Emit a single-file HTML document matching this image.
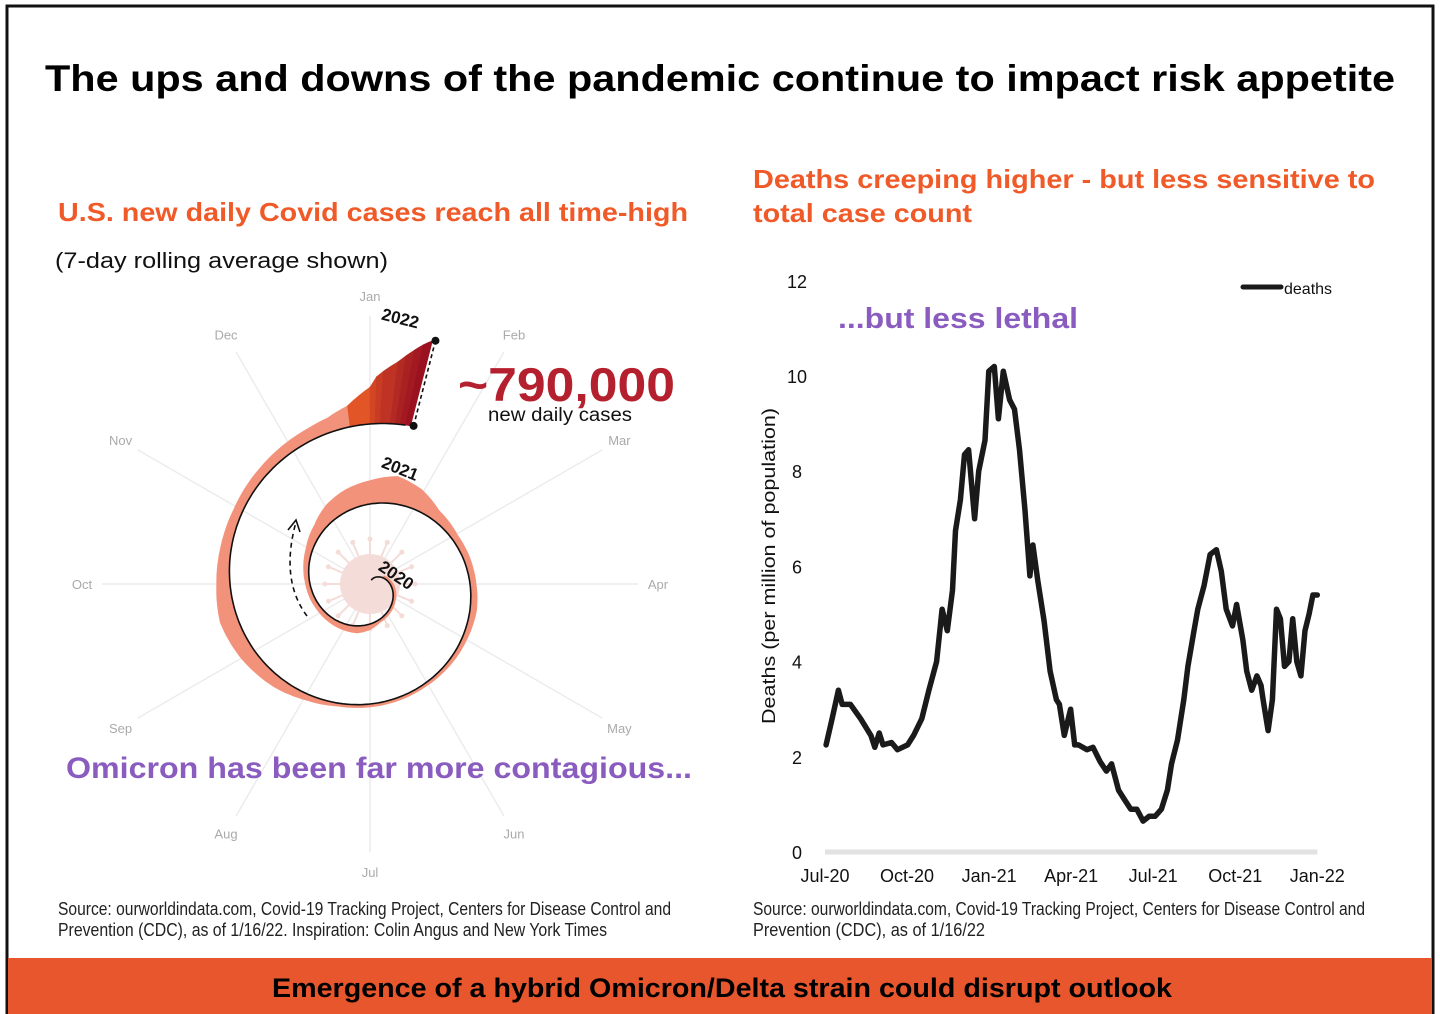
<!DOCTYPE html>
<html><head><meta charset="utf-8"><style>
html,body{margin:0;padding:0;background:#fff;}
svg{display:block;font-family:"Liberation Sans",sans-serif;}
</style></head><body>
<svg id="page" width="1440" height="1014" viewBox="0 0 1440 1014" xmlns="http://www.w3.org/2000/svg">
<rect x="7" y="6" width="1426" height="1010" fill="#fff" stroke="#111" stroke-width="3"/>
<text x="720" y="91" text-anchor="middle" font-size="37" font-weight="bold" fill="#000" textLength="1350" lengthAdjust="spacingAndGlyphs">The ups and downs of the pandemic continue to impact risk appetite</text>

<text x="58" y="221" font-size="26" font-weight="bold" fill="#f05a28" textLength="630" lengthAdjust="spacingAndGlyphs">U.S. new daily Covid cases reach all time-high</text>
<text x="55" y="268" font-size="22" fill="#111" textLength="333" lengthAdjust="spacingAndGlyphs">(7-day rolling average shown)</text>

<g id="spiral"></g>

<text x="458" y="401" font-size="47" font-weight="bold" fill="#b5202e" textLength="217" lengthAdjust="spacingAndGlyphs">~790,000</text>
<text x="488" y="421" font-size="19" fill="#111" textLength="144" lengthAdjust="spacingAndGlyphs">new daily cases</text>
<text x="66" y="778" font-size="30" font-weight="bold" fill="#8a5cbf" textLength="626" lengthAdjust="spacingAndGlyphs">Omicron has been far more contagious...</text>

<text x="753" y="188" font-size="26" font-weight="bold" fill="#f05a28" textLength="622" lengthAdjust="spacingAndGlyphs">Deaths creeping higher - but less sensitive to</text>
<text x="753" y="222" font-size="26" font-weight="bold" fill="#f05a28" textLength="219" lengthAdjust="spacingAndGlyphs">total case count</text>
<text x="838" y="328" font-size="29" font-weight="bold" fill="#8a5cbf" textLength="240" lengthAdjust="spacingAndGlyphs">...but less lethal</text>

<g id="deathsChart"></g>

<text x="58" y="915" font-size="18" fill="#222" textLength="613" lengthAdjust="spacingAndGlyphs">Source: ourworldindata.com, Covid-19 Tracking Project, Centers for Disease Control and</text>
<text x="58" y="936" font-size="18" fill="#222" textLength="549" lengthAdjust="spacingAndGlyphs">Prevention (CDC), as of 1/16/22. Inspiration: Colin Angus and New York Times</text>
<text x="753" y="915" font-size="18" fill="#222" textLength="612" lengthAdjust="spacingAndGlyphs">Source: ourworldindata.com, Covid-19 Tracking Project, Centers for Disease Control and</text>
<text x="753" y="936" font-size="18" fill="#222" textLength="232" lengthAdjust="spacingAndGlyphs">Prevention (CDC), as of 1/16/22</text>

<rect x="8" y="958" width="1424" height="56" fill="#e8562e"/>
<text x="722" y="997" text-anchor="middle" font-size="27" font-weight="bold" fill="#000" textLength="900" lengthAdjust="spacingAndGlyphs">Emergence of a hybrid Omicron/Delta strain could disrupt outlook</text>
</svg>
<script>
// ---------- Spiral data (cases, thousands, 7-day avg) ----------
const caseTimes = [2020.17,2020.25,2020.29,2020.33,2020.42,2020.46,2020.5,2020.54,2020.58,2020.67,2020.75,2020.79,2020.83,2020.88,2020.92,2020.96,2021.0,2021.04,2021.08,2021.12,2021.17,2021.25,2021.29,2021.33,2021.42,2021.46,2021.5,2021.54,2021.58,2021.62,2021.67,2021.71,2021.75,2021.79,2021.83,2021.88,2021.92,2021.94,2021.96,2021.98,2022.0,2022.005,2022.01,2022.02,2022.025,2022.03,2022.035,2022.04];
const caseValues = [5,30,30,27,22,25,50,66,58,42,40,48,60,95,150,185,210,250,190,100,60,55,60,45,20,13,14,25,55,100,140,160,120,95,80,85,100,110,130,190,330,420,470,560,620,680,740,790];
const monthLabels = ["Jan","Feb","Mar","Apr","May","Jun","Jul","Aug","Sep","Oct","Nov","Dec"];
const yearLabels = ["2020","2021","2022"];

// ---------- Deaths data (months since Jul-20, per million) ----------
const deathMonths = [0.04,0.26,0.49,0.63,0.93,1.3,1.68,1.82,1.98,2.12,2.43,2.65,3.02,3.24,3.54,3.8,4.08,4.28,4.47,4.66,4.77,4.95,5.1,5.25,5.47,5.62,5.85,5.99,6.19,6.34,6.52,6.75,6.93,7.11,7.31,7.49,7.6,7.78,8.01,8.23,8.46,8.57,8.75,8.98,9.13,9.27,9.58,9.8,10.06,10.29,10.48,10.73,10.95,11.18,11.4,11.63,11.85,12.07,12.3,12.52,12.67,12.89,13.12,13.27,13.49,13.63,13.86,14.08,14.31,14.49,14.67,14.9,15.05,15.28,15.42,15.6,15.79,15.94,16.02,16.2,16.36,16.51,16.65,16.8,16.96,17.1,17.25,17.4,17.55,17.7,17.84,18.0];
const deathValues = [2.25,2.8,3.4,3.1,3.1,2.8,2.45,2.2,2.5,2.25,2.3,2.15,2.25,2.45,2.8,3.4,4.0,5.1,4.65,5.5,6.75,7.4,8.35,8.45,7.0,8.0,8.65,10.1,10.2,9.1,10.1,9.5,9.3,8.45,7.2,5.8,6.45,5.7,4.85,3.8,3.2,3.1,2.45,3.0,2.25,2.25,2.15,2.2,1.9,1.7,1.85,1.3,1.1,0.9,0.9,0.65,0.75,0.75,0.9,1.3,1.85,2.35,3.2,3.9,4.65,5.1,5.6,6.25,6.35,5.9,5.1,4.75,5.2,4.45,3.8,3.4,3.7,3.5,3.2,2.55,3.2,5.1,4.9,3.9,4.0,4.9,4.0,3.7,4.65,5.0,5.4,5.4];
const yTicks = [0,2,4,6,8,10,12];
const xTickLabels = ["Jul-20","Oct-20","Jan-21","Apr-21","Jul-21","Oct-21","Jan-22"];
const xTickMonths = [0,3,6,9,12,15,18];

const NS = "http://www.w3.org/2000/svg";
function mk(tag, attrs, parent){const e=document.createElementNS(NS,tag);for(const k in attrs)e.setAttribute(k,attrs[k]);parent.appendChild(e);return e;}

// ---------- Spiral ----------
(function(){
  const g = document.getElementById('spiral');
  const cx=370, cy=584, perYear=80, pxPerK=88/790;
  const rBase = t => (t-2020)*perYear;
  const pt = (t, r) => { const a=2*Math.PI*(t-Math.floor(t)); return [cx + r*Math.sin(a), cy - r*Math.cos(a)]; };
  monthLabels.forEach((m,i)=>{
    const a=2*Math.PI*i/12;
    const sp=mk('line',{x1:cx,y1:cy,x2:cx+268*Math.sin(a),y2:cy-268*Math.cos(a),stroke:'#ececec','stroke-width':1.5},g);
    
    
    const tx=mk('text',{x:cx+288*Math.sin(a),y:cy-288*Math.cos(a)+5,'text-anchor':'middle','font-size':13,fill:'#aaa'},g);
    tx.textContent=m;
    
    
  });
  const v=mk('g',{},g);
  
  
  mk('circle',{cx:cx,cy:cy,r:30,fill:'#f4dcd8'},v);
  for(let i=0;i<16;i++){const a=2*Math.PI*i/16;
    mk('line',{x1:cx+28*Math.cos(a),y1:cy+28*Math.sin(a),x2:cx+44*Math.cos(a),y2:cy+44*Math.sin(a),stroke:'#f4dcd8','stroke-width':2},v);
    mk('circle',{cx:cx+45*Math.cos(a),cy:cy+45*Math.sin(a),r:2.5,fill:'#f4dcd8'},v);}
  const thick = k => Math.max(3, caseValues[k]*pxPerK);
  const colorFor = (val,t) => {
    if(t<2021.975) return '#f3927a';
    const s=Math.min(1,Math.max(0,(val-150)/640));
    const c0=[242,100,40], c1=[150,14,32];
    return 'rgb('+c0.map((c,i)=>Math.round(c+(c1[i]-c)*s)).join(',')+')';
  };
  for(let k=0;k<caseTimes.length-1;k++){
    const t0=caseTimes[k], t1=caseTimes[k+1], steps=Math.max(2,Math.ceil((t1-t0)*200));
    const inner=[], outer=[];
    for(let s=0;s<=steps;s++){
      const f=s/steps, t=t0+(t1-t0)*f, r=rBase(t), th=thick(k)+(thick(k+1)-thick(k))*f;
      inner.push(pt(t,r)); outer.push(pt(t,r+th));
    }
    const pts=inner.concat(outer.reverse()).map(p=>p[0].toFixed(1)+','+p[1].toFixed(1)).join(' ');
    const col=colorFor((caseValues[k]+caseValues[k+1])/2,t0);
    const poly=mk('polygon',{points:pts,fill:col,stroke:col,'stroke-width':0.6},g);
    
    
  }
  let d='';
  for(let t=2020.05;t<=2022.04;t+=0.005){const p=pt(t,rBase(t));d+=(d?'L':'M')+p[0].toFixed(1)+','+p[1].toFixed(1);}
  const bl=mk('path',{d:d,fill:'none',stroke:'#111','stroke-width':1.6},g);
  
  
  const tEnd=caseTimes[caseTimes.length-1];
  const p0=pt(tEnd,rBase(tEnd)), p1=pt(tEnd,rBase(tEnd)+caseValues[caseValues.length-1]*pxPerK);
  const ml=mk('line',{x1:p0[0]+3,y1:p0[1],x2:p1[0]+3,y2:p1[1],stroke:'#111','stroke-width':1.6,'stroke-dasharray':'4,3'},g);
  
  
  [p0,p1].forEach(p=>{const c=mk('circle',{cx:p[0]+3,cy:p[1],r:4,fill:'#111'},g);
    
    });
  const ar=mk('path',{d:'M307,616 Q280,580 296,522',fill:'none',stroke:'#111','stroke-width':1.6,'stroke-dasharray':'5,4'},g);
  
  
  const ah=mk('path',{d:'M288,530 L296,520 L300,532',fill:'none',stroke:'#111','stroke-width':1.6},g);
  
  
  const yl=[[393,580,34],[398,474,22],[399,324,14]];
  yearLabels.forEach((y,i)=>{
    const tx=mk('text',{x:yl[i][0],y:yl[i][1],'text-anchor':'middle','font-size':17,'font-weight':'bold',fill:'#111',transform:'rotate('+yl[i][2]+' '+yl[i][0]+' '+yl[i][1]+')'},g);
    tx.textContent=y;
    
    
  });
})();

// ---------- Deaths chart ----------
(function(){
  const g=document.getElementById('deathsChart');
  const x0=825, pxPerMonth=27.35, yZero=852, pxPerUnit=47.6;
  const xs=m=>x0+m*pxPerMonth, ys=v=>yZero-v*pxPerUnit;
  const ax=mk('line',{x1:xs(0),y1:yZero,x2:xs(18),y2:yZero,stroke:'#e2e2e2','stroke-width':5},g);
  
  
  yTicks.forEach(v=>{
    const t=mk('text',{x:797,y:ys(v)+7,'text-anchor':'middle','font-size':18,fill:'#111'},g);
    t.textContent=v;
    
    
  });
  xTickLabels.forEach((l,i)=>{
    const t=mk('text',{x:xs(xTickMonths[i]),y:882,'text-anchor':'middle','font-size':18,fill:'#111'},g);
    t.textContent=l;
    
    
  });
  const yt=mk('text',{x:775,y:566,'text-anchor':'middle','font-size':18,fill:'#111',transform:'rotate(-90 775 566)',textLength:316,lengthAdjust:'spacingAndGlyphs'},g);
  yt.textContent='Deaths (per million of population)';
  
  
  const d=deathMonths.map((m,i)=>(i?'L':'M')+xs(m).toFixed(1)+','+ys(deathValues[i]).toFixed(1)).join('');
  const ln=mk('path',{d:d,fill:'none',stroke:'#1a1a1a','stroke-width':5.5,'stroke-linejoin':'round','stroke-linecap':'round'},g);
  
  
  const lg=mk('line',{x1:1243,y1:287,x2:1281,y2:287,stroke:'#1a1a1a','stroke-width':5,'stroke-linecap':'round'},g);
  
  
  const lt=mk('text',{x:1284,y:294,'font-size':16,fill:'#111'},g);
  lt.textContent='deaths';
  
  
})();
</script>
</body></html>
